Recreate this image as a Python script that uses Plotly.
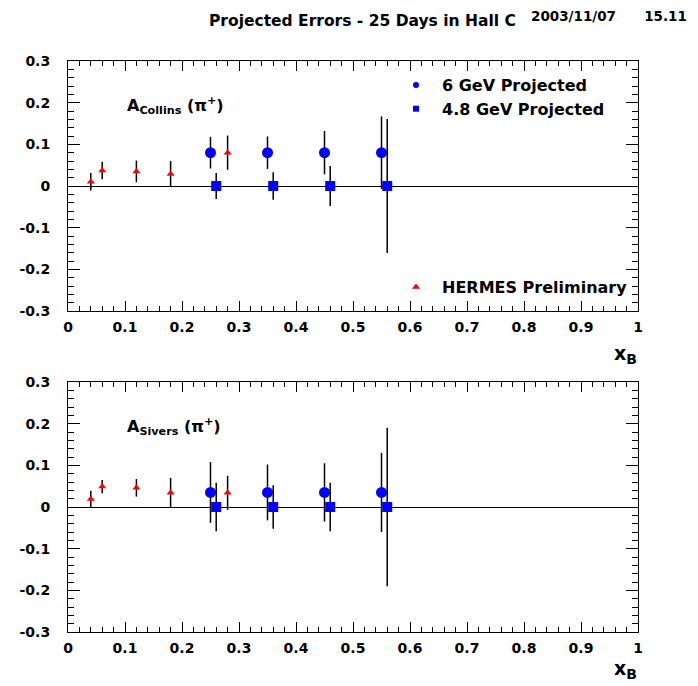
import plotly.graph_objects as go

# ---------------- data ----------------
# 6 GeV projected (circles)
x6 = [0.25, 0.35, 0.45, 0.55]
collins6 = [0.08, 0.08, 0.08, 0.08]
collins6_err = [0.038, 0.039, 0.052, 0.087]
sivers6 = [0.035, 0.035, 0.035, 0.035]
sivers6_err = [0.073, 0.067, 0.070, 0.095]

# 4.8 GeV projected (squares)
x48 = [0.26, 0.36, 0.46, 0.56]
collins48 = [0.0, 0.0, 0.0, 0.0]
collins48_err = [0.031, 0.033, 0.048, 0.161]
sivers48 = [0.0, 0.0, 0.0, 0.0]
sivers48_err = [0.058, 0.052, 0.058, 0.190]

# HERMES preliminary (triangles)
xh = [0.04, 0.06, 0.12, 0.18, 0.28]
collinsh = [0.010, 0.037, 0.035, 0.029, 0.080]
collinsh_err = [0.021, 0.021, 0.026, 0.031, 0.041]
siversh = [0.019, 0.049, 0.046, 0.034, 0.034]
siversh_err = [0.020, 0.016, 0.021, 0.036, 0.041]

xtickvals = [0, 0.1, 0.2, 0.3, 0.4, 0.5, 0.6, 0.7, 0.8, 0.9, 1.0]
xticktext = ["0", "0.1", "0.2", "0.3", "0.4", "0.5", "0.6", "0.7", "0.8", "0.9", "1"]
ytickvals = [-0.3, -0.2, -0.1, 0, 0.1, 0.2, 0.3]
yticktext = ["-0.3", "-0.2", "-0.1", "0", "0.1", "0.2", "0.3"]

FONT = "DejaVu Sans, Liberation Sans, Arial, sans-serif"
BLUE = "#0000ff"
RED = "#ff0000"

fig = go.Figure()

def err(vals):
    return dict(type="data", array=vals, visible=True, color="black",
                thickness=1.5, width=0)

panels = [
    ("x", "y", collins6, collins6_err, collins48, collins48_err, collinsh, collinsh_err),
    ("x2", "y2", sivers6, sivers6_err, sivers48, sivers48_err, siversh, siversh_err),
]
for xa, ya, c6, e6, c48, e48, ch, eh in panels:
    fig.add_trace(go.Scatter(x=xh, y=ch, error_y=err(eh), mode="markers",
                             marker=dict(symbol="triangle-up", size=7, color=RED),
                             xaxis=xa, yaxis=ya, showlegend=False))
    fig.add_trace(go.Scatter(x=x6, y=c6, error_y=err(e6), mode="markers",
                             marker=dict(symbol="circle", size=11, color=BLUE),
                             xaxis=xa, yaxis=ya, showlegend=False))
    fig.add_trace(go.Scatter(x=x48, y=c48, error_y=err(e48), mode="markers",
                             marker=dict(symbol="square", size=10, color=BLUE),
                             xaxis=xa, yaxis=ya, showlegend=False))

# legend-only entries
fig.add_trace(go.Scatter(x=[None], y=[None], mode="markers", name="6 GeV Projected",
                         marker=dict(symbol="circle", size=6, color=BLUE), legend="legend"))
fig.add_trace(go.Scatter(x=[None], y=[None], mode="markers", name="4.8 GeV Projected",
                         marker=dict(symbol="square", size=6, color=BLUE), legend="legend"))
fig.add_trace(go.Scatter(x=[None], y=[None], mode="markers", name="HERMES Preliminary",
                         marker=dict(symbol="triangle-up", size=7, color=RED), legend="legend2"))

W, H = 698, 686
xl, xr = 68 / W, 638 / W
top_dom = [(H - 311) / H, (H - 61) / H]
bot_dom = [(H - 632) / H, (H - 382) / H]

tickfont = dict(family=FONT, size=14, color="black", weight="bold")

def xaxis(dom_anchor):
    return dict(domain=[xl, xr], range=[0, 1], anchor=dom_anchor, automargin=False,
                tickvals=xtickvals, ticktext=xticktext, ticks="inside", ticklen=10,
                tickwidth=1, tickcolor="black", mirror="allticks", showline=True,
                linecolor="black", linewidth=1, showgrid=False, zeroline=False,
                tickfont=tickfont, ticklabelstandoff=3,
                minor=dict(ticks="inside", dtick=0.02, tick0=0, ticklen=5,
                           tickcolor="black", tickwidth=1, showgrid=False))

def yaxis(dom, anchor):
    return dict(domain=dom, range=[-0.3, 0.3], anchor=anchor, automargin=False,
                tickvals=ytickvals, ticktext=yticktext, ticks="inside", ticklen=12,
                tickwidth=1, tickcolor="black", mirror="allticks", showline=True,
                linecolor="black", linewidth=1, showgrid=False,
                zeroline=True, zerolinecolor="black", zerolinewidth=1,
                tickfont=tickfont, ticklabelstandoff=14,
                minor=dict(ticks="inside", dtick=0.02, tick0=0, ticklen=6,
                           tickcolor="black", tickwidth=1, showgrid=False))

NB = "\u00a0"
annots = [
    dict(text="Projected Errors - 25 Days in Hall C", x=207 / W, y=1 - 21 / H,
         xanchor="left", yanchor="middle", font=dict(family=FONT, size=15.5, weight="bold")),
    dict(text="2003/11/07" + NB * 6 + "15.11", x=529 / W, y=1 - 16 / H,
         xanchor="left", yanchor="middle", font=dict(family=FONT, size=13.5, weight="bold")),
    dict(text="A<sub>Collins</sub> (π<sup>+</sup>)", x=125 / W, y=1 - 105 / H,
         xanchor="left", yanchor="middle", font=dict(family=FONT, size=16, weight="bold")),
    dict(text="A<sub>Sivers</sub> (π<sup>+</sup>)", x=125 / W, y=1 - 426 / H,
         xanchor="left", yanchor="middle", font=dict(family=FONT, size=16, weight="bold")),
    dict(text="x<sub><span style='font-size:14px'>B</span></sub>", x=639 / W, y=1 - 354 / H,
         xanchor="right", yanchor="middle", font=dict(family=FONT, size=19, weight="bold")),
    dict(text="x<sub><span style='font-size:14px'>B</span></sub>", x=639 / W, y=1 - 669 / H,
         xanchor="right", yanchor="middle", font=dict(family=FONT, size=19, weight="bold")),
]
for a in annots:
    a.update(xref="paper", yref="paper", showarrow=False)
    a["font"]["color"] = "black"

legfont = dict(family=FONT, size=16, color="black", weight="bold")
fig.update_layout(
    width=W, height=H, margin=dict(l=0, r=0, t=0, b=0, autoexpand=False),
    paper_bgcolor="white", plot_bgcolor="white",
    xaxis=xaxis("y"), yaxis=yaxis(top_dom, "x"),
    xaxis2=xaxis("y2"), yaxis2=yaxis(bot_dom, "x2"),
    annotations=annots,
    legend=dict(x=390 / W, y=1 - 68 / H, xanchor="left", yanchor="top",
                bgcolor="rgba(0,0,0,0)", font=legfont, tracegroupgap=0,
                itemwidth=42, traceorder="normal"),
    legend2=dict(x=390 / W, y=1 - 270 / H, xanchor="left", yanchor="top",
                 bgcolor="rgba(0,0,0,0)", font=legfont, itemwidth=42),
)

fig.write_html("out.html")
